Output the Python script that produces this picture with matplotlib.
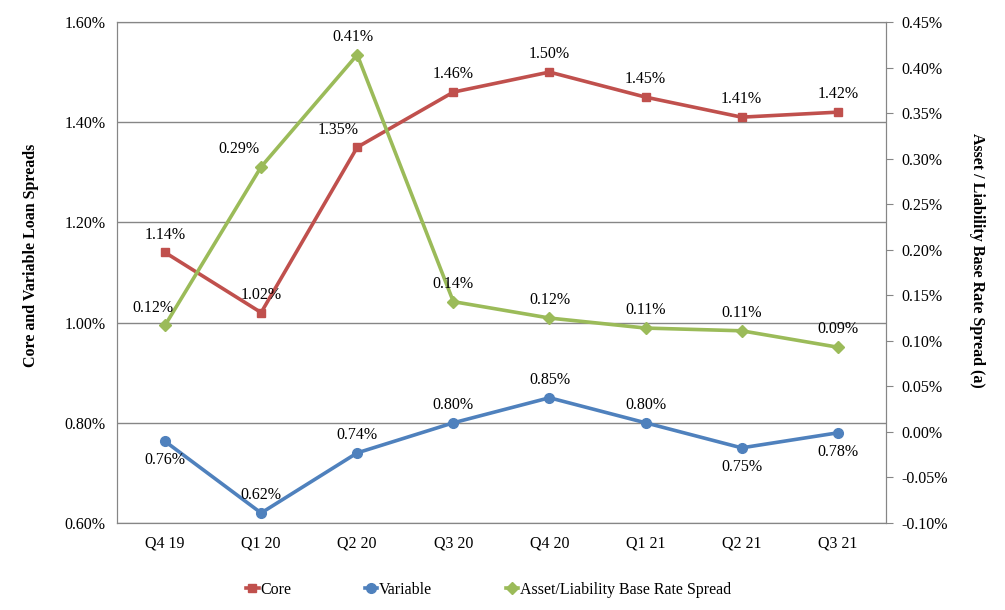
import matplotlib.pyplot as plt
from matplotlib.ticker import FuncFormatter

plt.rcParams['font.family'] = ['Liberation Serif', 'DejaVu Serif']

quarters = ["Q4 19", "Q1 20", "Q2 20", "Q3 20", "Q4 20", "Q1 21", "Q2 21", "Q3 21"]
core = [1.14, 1.02, 1.35, 1.46, 1.50, 1.45, 1.41, 1.42]
variable = [0.763, 0.62, 0.74, 0.80, 0.85, 0.80, 0.75, 0.78]
variable_lbl = ["0.76%", "0.62%", "0.74%", "0.80%", "0.85%", "0.80%", "0.75%", "0.78%"]
spread = [0.117, 0.291, 0.414, 0.143, 0.125, 0.114, 0.111, 0.093]
spread_lbl = ["0.12%", "0.29%", "0.41%", "0.14%", "0.12%", "0.11%", "0.11%", "0.09%"]
var_below = [True, False, False, False, False, False, True, True]

red = "#C0504D"
blue = "#4F81BD"
green = "#9BBB59"
grey = "#868686"
fs = 11.5

fig = plt.figure(figsize=(10.05, 6.10), dpi=100)
ax = fig.add_axes([0.1164, 0.1426, 0.765, 0.8214])
ax2 = ax.twinx()

x = list(range(len(quarters)))

l1, = ax.plot(x, core, color=red, lw=2.6, marker="s", ms=6, label="Core")
l2, = ax.plot(x, variable, color=blue, lw=2.6, marker="o", ms=7, label="Variable")
l3, = ax2.plot(x, spread, color=green, lw=2.6, marker="D", ms=6,
               label="Asset/Liability Base Rate Spread")

ax.set_xlim(-0.5, len(quarters) - 0.5)
ax.set_ylim(0.6, 1.6)
ax2.set_ylim(-0.10, 0.45)
ax.set_yticks([0.6, 0.8, 1.0, 1.2, 1.4, 1.6])
ax2.set_yticks([-0.10, -0.05, 0, 0.05, 0.10, 0.15, 0.20, 0.25, 0.30, 0.35, 0.40, 0.45])
ax.yaxis.set_major_formatter(FuncFormatter(lambda v, p: f"{v:.2f}%"))
ax2.yaxis.set_major_formatter(FuncFormatter(lambda v, p: f"{v:.2f}%"))
ax.set_xticks(x)
ax.set_xticklabels(quarters)

ax.grid(axis="y", color=grey, lw=1)
ax.set_axisbelow(True)
for a in (ax, ax2):
    for s in a.spines.values():
        s.set_color(grey)
ax.tick_params(axis="y", length=0, labelsize=fs, pad=8)
ax.tick_params(axis="x", length=0, labelsize=fs, pad=9)
ax2.tick_params(axis="y", length=5, color=grey, labelsize=fs, pad=6)

ax.set_ylabel("Core and Variable Loan Spreads", fontsize=fs, fontweight="bold")
ax.yaxis.set_label_coords(-0.102, 0.535)
ax2.set_ylabel("Asset / Liability Base Rate Spread (a)", fontsize=fs, fontweight="bold",
               rotation=270, va="center")
ax2.yaxis.set_label_coords(1.119, 0.525)

for i, v in enumerate(core):
    dx = -14 if i == 2 else 0
    ax.annotate(f"{v:.2f}%", (i, v), xytext=(dx, 7), textcoords="offset points",
                ha="center", va="bottom", fontsize=fs)
for i, v in enumerate(variable):
    if var_below[i]:
        ax.annotate(variable_lbl[i], (i, v), xytext=(0, -8), textcoords="offset points",
                    ha="center", va="top", fontsize=fs)
    else:
        ax.annotate(variable_lbl[i], (i, v), xytext=(0, 7), textcoords="offset points",
                    ha="center", va="bottom", fontsize=fs)
for i, v in enumerate(spread):
    dx = {0: -9, 1: -16, 2: -3}.get(i, 0)
    ax2.annotate(spread_lbl[i], (i, v), xytext=(dx, 7), textcoords="offset points",
                 ha="center", va="bottom", fontsize=fs)

fig.legend(handles=[l1, l2, l3], loc="center", bbox_to_anchor=(0.486, 0.033), ncol=3,
           frameon=False, fontsize=fs, handlelength=0.8, handletextpad=0.1,
           columnspacing=4.6, markerscale=1.0)

fig.savefig("out.png", dpi=100)
